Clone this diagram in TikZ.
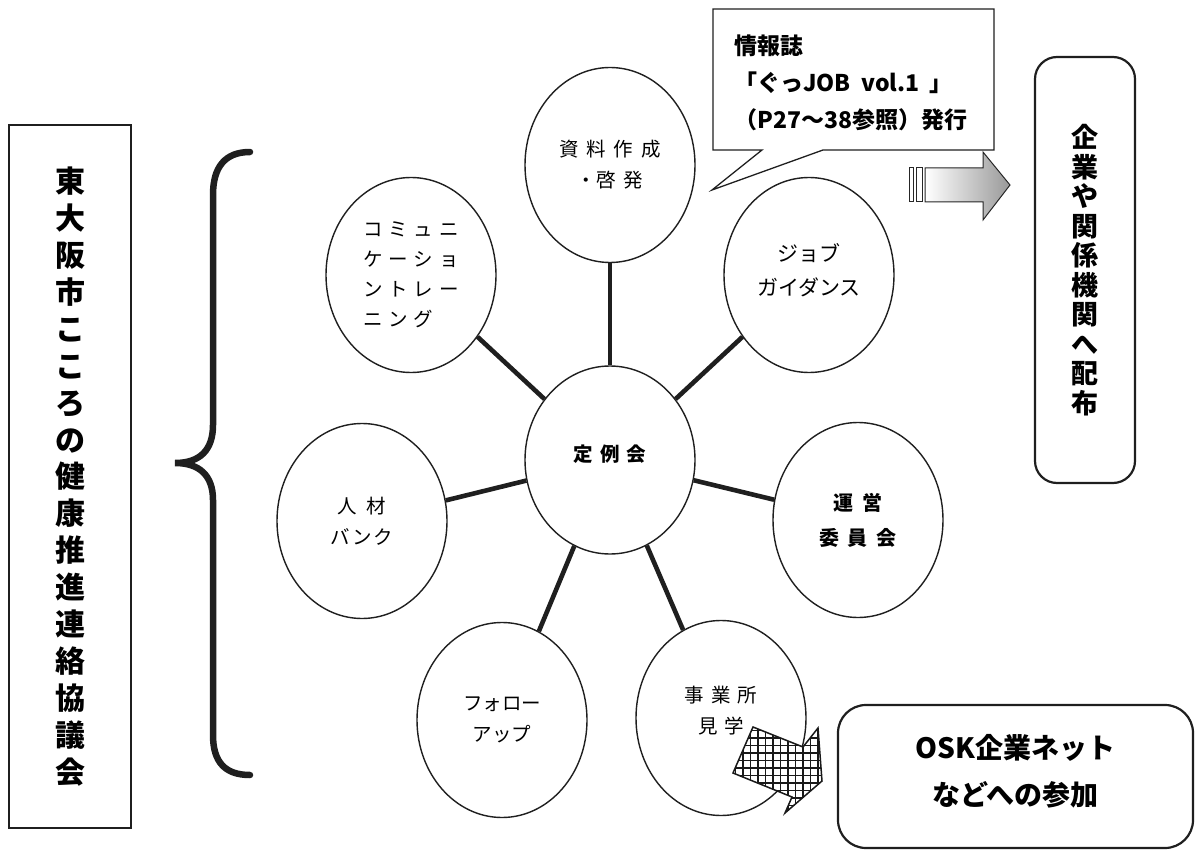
\documentclass[tikz,border=0pt]{standalone}
\usepackage{fontspec}
\setmainfont{Noto Sans CJK JP}
\usetikzlibrary{shapes.geometric}
\begin{document}
\begin{tikzpicture}[x=1pt,y=-1pt,
  bub/.style={ellipse, draw=black!88, line width=1.4pt, fill=white, minimum width=170pt, minimum height=195pt, inner sep=0pt, align=center, font=\fontsize{19.5}{31}\selectfont},
  spoke/.style={line width=4.6pt, black!88},
  vbox/.style={draw=black!88, line width=2.2pt, inner sep=0pt, align=center},
  edgeline/.style={draw=black!88, line width=1.3pt}
]
\useasboundingbox (0,0) rectangle (1197,853);

% left organisation box
\node[vbox, line width=2pt, minimum width=122pt, minimum height=703pt, font=\bfseries\fontsize{30}{36.9}\selectfont] (org) at (70,476.5)
  {東\\大\\阪\\市\\こ\\こ\\ろ\\の\\健\\康\\推\\進\\連\\絡\\協\\議\\会};

% brace
\draw[line width=6.5pt, black!88, line cap=round] (250,152) .. controls (225,152) and (213,167) .. (213,195) -- (213,425)
  .. controls (213,450) and (200,463) .. (175,463) .. controls (200,463) and (213,476) .. (213,500) -- (213,735)
  .. controls (213,762) and (225,775) .. (250,775);

% bubbles
\node[bub, minimum height=188pt] (c) at (610,460) {\textbf{定\hspace{7pt}例\hspace{7pt}会}\\[-17pt]\mbox{}};
\node[bub] (shiryo) at (610,165) {資\hspace{8pt}料\hspace{8pt}作\hspace{8pt}成\\・啓\hspace{8pt}発};
\node[bub] (comm) at (411,275) {\begin{tabular}{@{}l@{}}コ\hspace{6pt}ミ\hspace{6pt}ュ\hspace{6pt}ニ\\[-1pt]ケ\hspace{6pt}ー\hspace{6pt}シ\hspace{6pt}ョ\\[-1pt]ン\hspace{6pt}ト\hspace{6pt}レ\hspace{6pt}ー\\[-1pt]ニ\hspace{6pt}ン\hspace{6pt}グ\end{tabular}};
\node[bub, font=\fontsize{21}{34}\selectfont] (job) at (809,275) {ジョブ\\ガイダンス\\[-24pt]\mbox{}};
\node[bub, font=\bfseries\fontsize{20}{35}\selectfont] (unei) at (858,520) {運\hspace{9pt}営\\委\hspace{9pt}員\hspace{9pt}会};
\node[bub] (jinzai) at (362,521) {人\hspace{10pt}材\\バ\hspace{2pt}ン\hspace{2pt}ク};
\node[bub] (follow) at (502,720) {フォロー\\アップ};
\node[bub] (jigyo) at (721,718) {事\hspace{7pt}業\hspace{7pt}所\\見\hspace{7pt}学\\[-15pt]\mbox{}};

% spokes
\foreach \n in {shiryo,comm,job,unei,jinzai,follow,jigyo}
  \draw[spoke] (c) -- (\n);

% callout
\draw[edgeline, fill=white] (713,9) -- (994,9) -- (994,150) -- (823,150) -- (712,190) -- (762,150) -- (713,150) -- cycle;
\node[anchor=north west, inner sep=0pt, align=left, font=\bfseries\fontsize{23}{37}\selectfont] (info) at (734,35)
  {情報誌\\「ぐっJOB\ \ vol.1\ \ 」\\（P27～38参照）発行};

% grey arrow
\draw[line width=1pt, black!85] (909,168) rectangle (913,202);
\draw[line width=1pt, black!85] (916,168) rectangle (922,202);
\draw[line width=1pt, black!85, left color=white, right color=black!40]
  (925,168) -- (983,168) -- (983,152) -- (1010,185) -- (983,220) -- (983,202) -- (925,202) -- cycle;

% distribution box
\node[vbox, rounded corners=22pt, minimum width=100pt, minimum height=426pt, font=\bfseries\fontsize{27}{29.5}\selectfont] (dist) at (1085,270)
  {企\\業\\や\\関\\係\\機\\関\\へ\\配\\布};

% OSK box
\node[vbox, rounded corners=28pt, minimum width=355pt, minimum height=143pt, font=\bfseries\fontsize{28}{47}\selectfont] (osk) at (1015.5,776.5)
  {\mbox{}\\[-33pt]OSK企業ネット\\などへの参加};

% hatched arrow
\coordinate (hA) at (753,727);
\coordinate (hB) at (803,747);
\coordinate (hC) at (818,728);
\coordinate (hD) at (822,781);
\coordinate (hE) at (785,813);
\coordinate (hF) at (792,797);
\coordinate (hG) at (733,773);
\fill[white] (hA) -- (hB) -- (hC) -- (hD) -- (hE) -- (hF) -- (hG) -- cycle;
\begin{scope}
  \clip (hA) -- (hB) -- (hC) -- (hD) -- (hE) -- (hF) -- (hG) -- cycle;
  \foreach \gx in {0,...,14} \draw[line width=1.6pt, black!90] (728+7.5*\gx,720) -- (728+7.5*\gx,820);
  \foreach \gy in {0,...,14} \draw[line width=1.6pt, black!90] (728,723+7.5*\gy) -- (830,723+7.5*\gy);
\end{scope}
\draw[line width=1.5pt, black!90, line join=miter] (hA) -- (hB) -- (hC) -- (hD) -- (hE) -- (hF) -- (hG) -- cycle;
\end{tikzpicture}
\end{document}
